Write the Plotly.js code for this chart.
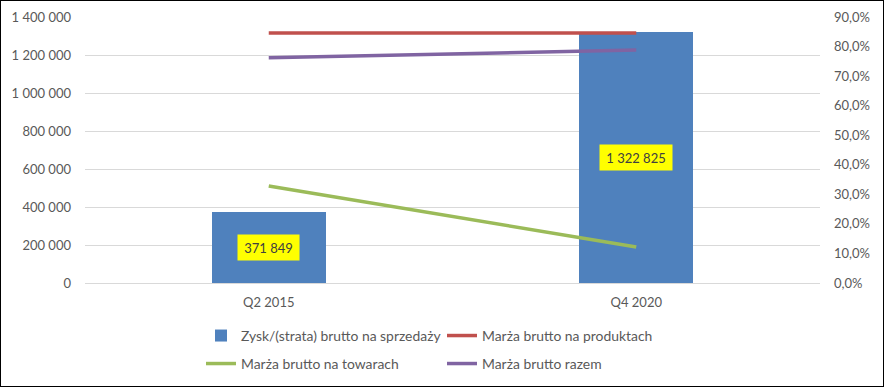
<!DOCTYPE html>
<html>
<head>
<meta charset="utf-8">
<script src="https://cdn.plot.ly/plotly-3.0.1.min.js"></script>
<style>
  html, body { margin: 0; padding: 0; background: #fff; }
  #wrap { position: relative; width: 884px; height: 387px; }
  #chart { position: absolute; left: 0; top: 0; width: 884px; height: 387px; }
  #frame { position: absolute; left: 0; top: 0; width: 884px; height: 387px; box-sizing: border-box; border: 1px solid #000; pointer-events: none; }
</style>
</head>
<body>
<div id="wrap"><div id="chart"></div><div id="frame"></div></div>
<script>
const categories = ['Q2 2015', 'Q4 2020'];
const zyskBrutto = [371849, 1322825];
const marzaProdukty = [0.846, 0.846];
const marzaTowary = [0.328, 0.122];
const marzaRazem = [0.762, 0.788];

const seriesNames = [
  'Zysk/(strata) brutto na sprzedaży',
  'Marża brutto na produktach',
  'Marża brutto na towarach',
  'Marża brutto razem'
];

const FONT = 'Lato, "Liberation Sans", sans-serif';
const GRAY = '#595959';
const TICK = 13;

function fmtSpace(v) {
  return String(Math.round(v)).replace(/\B(?=(\d{3})+(?!\d))/g, ' ');
}

const traces = [
  {
    type: 'bar', x: categories, y: zyskBrutto, name: seriesNames[0],
    marker: { color: '#4F81BD' }, width: 0.31, legend: 'legend',
    hoverinfo: 'skip'
  },
  {
    type: 'scatter', mode: 'lines', x: categories, y: marzaProdukty, name: seriesNames[1],
    yaxis: 'y2', line: { color: '#C0504D', width: 3.5 }, legend: 'legend'
  },
  {
    type: 'scatter', mode: 'lines', x: categories, y: marzaTowary, name: seriesNames[2],
    yaxis: 'y2', line: { color: '#9BBB59', width: 3.5 }, legend: 'legend2'
  },
  {
    type: 'scatter', mode: 'lines', x: categories, y: marzaRazem, name: seriesNames[3],
    yaxis: 'y2', line: { color: '#8064A2', width: 3.5 }, legend: 'legend2'
  }
];

const annotations = categories.map((c, i) => ({
  x: c, y: zyskBrutto[i] / 2, xref: 'x', yref: 'y',
  text: fmtSpace(zyskBrutto[i]), showarrow: false,
  bgcolor: '#FFFF00', font: { family: FONT, size: TICK, color: '#404040' },
  width: i === 0 ? 59 : 70, height: 23
}));

const legendCommon = {
  orientation: 'h', xref: 'container', yref: 'container',
  xanchor: 'left', yanchor: 'top', entrywidth: 196,
  font: { family: FONT, size: 13.9, color: GRAY },
  bgcolor: 'rgba(0,0,0,0)', borderwidth: 0, traceorder: 'normal'
};

const layout = {
  width: 884, height: 387,
  margin: { l: 85, r: 64, t: 17, b: 104 },
  paper_bgcolor: '#fff', plot_bgcolor: '#fff',
  separators: ', ',
  showlegend: true,
  font: { family: FONT, size: TICK, color: GRAY },
  bargap: 0,
  xaxis: {
    type: 'category', range: [-0.5, 1.5], showgrid: false, zeroline: false,
    showline: false, ticks: '', tickfont: { family: FONT, size: TICK, color: GRAY },
    ticklabelstandoff: 10, fixedrange: true
  },
  yaxis: {
    range: [0, 1400000], dtick: 200000, tickformat: ',d',
    showgrid: true, gridcolor: '#D9D9D9', gridwidth: 1,
    zeroline: true, zerolinecolor: '#D9D9D9', zerolinewidth: 1,
    showline: false, ticks: '', ticklabelstandoff: 13,
    tickfont: { family: FONT, size: TICK, color: GRAY }, fixedrange: true
  },
  yaxis2: {
    overlaying: 'y', side: 'right', range: [0, 0.9], dtick: 0.1, tickformat: '.1%',
    showgrid: false, zeroline: false, showline: false, ticks: '', ticklabelstandoff: 13,
    tickfont: { family: FONT, size: TICK, color: GRAY }, fixedrange: true
  },
  legend: Object.assign({}, legendCommon, { x: 201 / 884, y: 1 - 320 / 387 }),
  legend2: Object.assign({}, legendCommon, { x: 201 / 884, y: 1 - 348 / 387 }),
  annotations: annotations
};

Plotly.newPlot('chart', traces, layout, { displayModeBar: false, staticPlot: true });
</script>
</body>
</html>
